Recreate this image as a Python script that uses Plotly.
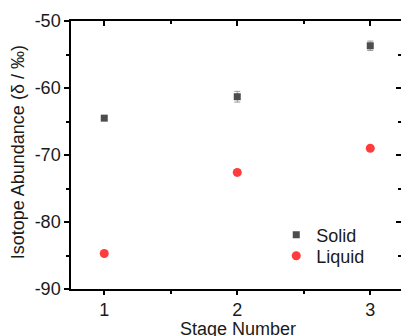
import plotly.graph_objects as go

stages = [1, 2, 3]
solid = [-64.5, -61.3, -53.7]
solid_err = [0.3, 0.8, 0.7]
liquid = [-84.7, -72.6, -69.0]
liquid_err = [0.3, 0.4, 0.3]
y_ticks = [-90, -80, -70, -60, -50]
y_tick_text = ["-90", "-80", "-70", "-60", "-50"]
x_ticks = [1, 2, 3]

FONT = "Liberation Sans, Arial, sans-serif"

fig = go.Figure()
fig.add_trace(go.Scatter(
    x=stages, y=solid, mode="markers", name="Solid", legend="legend",
    marker=dict(symbol="square", size=7, color="#4d4d4d"),
    error_y=dict(type="data", array=solid_err, color="#9a9a9a", thickness=1, width=3),
))
fig.add_trace(go.Scatter(
    x=stages, y=liquid, mode="markers", name="Liquid", legend="legend2",
    marker=dict(symbol="circle", size=9, color="#ff3c3c"),
    error_y=dict(type="data", array=liquid_err, color="#ff9a9a", thickness=1, width=3),
))
# invisible helper trace for mirror axes
fig.add_trace(go.Scatter(x=[stages[0]], y=[solid[0]], xaxis="x2", yaxis="y2",
                         mode="markers", marker=dict(opacity=0), showlegend=False, hoverinfo="skip"))

axis_common = dict(showgrid=False, zeroline=False, linecolor="black", linewidth=1.5,
                   tickcolor="black", tickwidth=1.5, automargin=False)

leg_common = dict(xanchor="left", yanchor="middle", bgcolor="rgba(0,0,0,0)",
                  font=dict(size=18), itemwidth=30)

fig.update_layout(
    width=401, height=336,
    margin=dict(l=71, r=0, t=21, b=47),
    paper_bgcolor="white", plot_bgcolor="white",
    font=dict(family=FONT, size=18, color="#1a1a1a"),
    showlegend=True,
    legend=dict(x=0.622, y=0.2015, **leg_common),
    legend2=dict(x=0.622, y=0.123, **leg_common),
    xaxis=dict(range=[0.75, 3.231], tickvals=x_ticks, ticks="outside", ticklen=4,
               showline=True,
               minor=dict(dtick=0.5, tick0=0.5, ticks="outside", ticklen=3, tickwidth=1.5, tickcolor="black"),
               **axis_common),
    yaxis=dict(range=[-90, -50], tickvals=y_ticks, ticktext=y_tick_text, ticks="outside", ticklen=5,
               showline=True,
               minor=dict(dtick=5, tick0=-90, ticks="outside", ticklen=3, tickwidth=1.5, tickcolor="black"),
               **axis_common),
    xaxis2=dict(overlaying="x", matches="x", side="top", anchor="y", showline=True,
                showticklabels=False, tickvals=x_ticks, ticks="inside", ticklen=5,
                minor=dict(dtick=0.5, tick0=0.5, ticks="inside", ticklen=3, tickwidth=1.5, tickcolor="black"),
                **axis_common),
    yaxis2=dict(overlaying="y", matches="y", side="right", anchor="x", showline=False,
                showticklabels=False, tickvals=y_ticks, ticks="inside", ticklen=5,
                minor=dict(dtick=5, tick0=-90, ticks="inside", ticklen=3, tickwidth=1.5, tickcolor="black"),
                **axis_common),
    annotations=[
        dict(text="Stage Number", xref="paper", yref="paper", x=0.505, y=-0.1045,
             xanchor="center", yanchor="top", showarrow=False, font=dict(size=18)),
        dict(text="Isotope Abundance (δ / ‰)", xref="paper", yref="paper", x=-0.16, y=0.511,
             xanchor="center", yanchor="middle", textangle=-90, showarrow=False, font=dict(size=18)),
    ],
)

fig.write_html("out.html", config={"displayModeBar": False},
               post_script="document.body.style.margin='0';document.body.style.overflow='hidden';")
